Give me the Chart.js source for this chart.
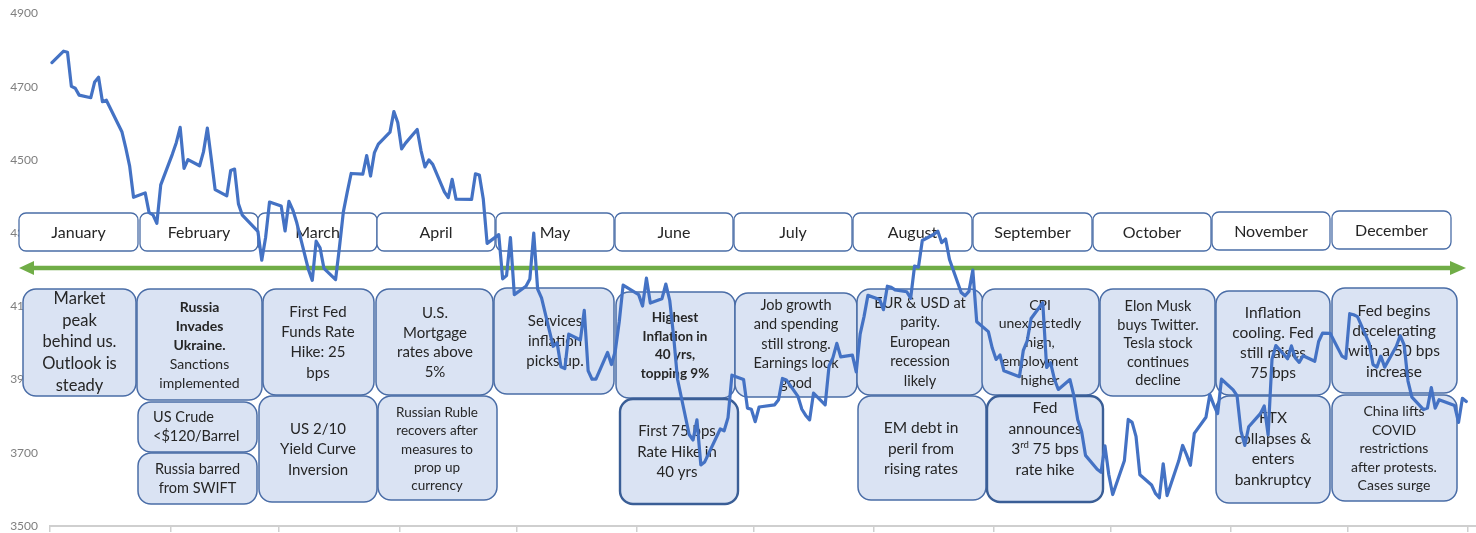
<!DOCTYPE html>
<html><head><meta charset="utf-8">
<script src="https://cdn.jsdelivr.net/npm/chart.js@4.4.1/dist/chart.umd.min.js"></script>
<style>html,body{margin:0;padding:0;background:#fff;}#wrap{width:1476px;height:533px;}</style>
</head><body><div id="wrap"><canvas id="c" width="1476" height="533"></canvas></div>
<script>
const tradingDates = [
'2021-12-31',
'2022-01-03','2022-01-04','2022-01-05','2022-01-06','2022-01-07','2022-01-10','2022-01-11','2022-01-12','2022-01-13','2022-01-14','2022-01-18','2022-01-19','2022-01-20','2022-01-21','2022-01-24','2022-01-25','2022-01-26','2022-01-27','2022-01-28','2022-01-31',
'2022-02-01','2022-02-02','2022-02-03','2022-02-04','2022-02-07','2022-02-08','2022-02-09','2022-02-10','2022-02-11','2022-02-14','2022-02-15','2022-02-16','2022-02-17','2022-02-18','2022-02-22','2022-02-23','2022-02-24','2022-02-25','2022-02-28',
'2022-03-01','2022-03-02','2022-03-03','2022-03-04','2022-03-07','2022-03-08','2022-03-09','2022-03-10','2022-03-11','2022-03-14','2022-03-15','2022-03-16','2022-03-17','2022-03-18','2022-03-21','2022-03-22','2022-03-23','2022-03-24','2022-03-25','2022-03-28','2022-03-29','2022-03-30','2022-03-31',
'2022-04-01','2022-04-04','2022-04-05','2022-04-06','2022-04-07','2022-04-08','2022-04-11','2022-04-12','2022-04-13','2022-04-14','2022-04-18','2022-04-19','2022-04-20','2022-04-21','2022-04-22','2022-04-25','2022-04-26','2022-04-27','2022-04-28','2022-04-29',
'2022-05-02','2022-05-03','2022-05-04','2022-05-05','2022-05-06','2022-05-09','2022-05-10','2022-05-11','2022-05-12','2022-05-13','2022-05-16','2022-05-17','2022-05-18','2022-05-19','2022-05-20','2022-05-23','2022-05-24','2022-05-25','2022-05-26','2022-05-27','2022-05-31',
'2022-06-01','2022-06-02','2022-06-03','2022-06-06','2022-06-07','2022-06-08','2022-06-09','2022-06-10','2022-06-13','2022-06-14','2022-06-15','2022-06-16','2022-06-17','2022-06-21','2022-06-22','2022-06-23','2022-06-24','2022-06-27','2022-06-28','2022-06-29','2022-06-30',
'2022-07-01','2022-07-05','2022-07-06','2022-07-07','2022-07-08','2022-07-11','2022-07-12','2022-07-13','2022-07-14','2022-07-15','2022-07-18','2022-07-19','2022-07-20','2022-07-21','2022-07-22','2022-07-25','2022-07-26','2022-07-27','2022-07-28','2022-07-29',
'2022-08-01','2022-08-02','2022-08-03','2022-08-04','2022-08-05','2022-08-08','2022-08-09','2022-08-10','2022-08-11','2022-08-12','2022-08-15','2022-08-16','2022-08-17','2022-08-18','2022-08-19','2022-08-22','2022-08-23','2022-08-24','2022-08-25','2022-08-26','2022-08-29','2022-08-30','2022-08-31',
'2022-09-01','2022-09-02','2022-09-06','2022-09-07','2022-09-08','2022-09-09','2022-09-12','2022-09-13','2022-09-14','2022-09-15','2022-09-16','2022-09-19','2022-09-20','2022-09-21','2022-09-22','2022-09-23','2022-09-26','2022-09-27','2022-09-28','2022-09-29','2022-09-30',
'2022-10-03','2022-10-04','2022-10-05','2022-10-06','2022-10-07','2022-10-10','2022-10-11','2022-10-12','2022-10-13','2022-10-14','2022-10-17','2022-10-18','2022-10-19','2022-10-20','2022-10-21','2022-10-24','2022-10-25','2022-10-26','2022-10-27','2022-10-28','2022-10-31',
'2022-11-01','2022-11-02','2022-11-03','2022-11-04','2022-11-07','2022-11-08','2022-11-09','2022-11-10','2022-11-11','2022-11-14','2022-11-15','2022-11-16','2022-11-17','2022-11-18','2022-11-21','2022-11-22','2022-11-23','2022-11-25','2022-11-28','2022-11-29','2022-11-30',
'2022-12-01','2022-12-02','2022-12-05','2022-12-06','2022-12-07','2022-12-08','2022-12-09','2022-12-12','2022-12-13','2022-12-14','2022-12-15','2022-12-16','2022-12-19','2022-12-20','2022-12-21','2022-12-22','2022-12-23','2022-12-27','2022-12-28','2022-12-29','2022-12-30'
];
const closes = [
4766,
4797,4794,4701,4696,4677,4670,4713,4726,4659,4663,4577,4533,4483,4398,4410,4356,4350,4327,4432,4516,
4547,4589,4477,4501,4484,4522,4587,4504,4419,4402,4471,4475,4380,4349,4305,4226,4289,4385,4374,
4306,4387,4363,4329,4201,4171,4278,4260,4204,4173,4262,4358,4412,4463,4461,4512,4456,4520,4543,4576,4632,4602,4530,
4546,4583,4525,4481,4500,4488,4413,4397,4447,4393,4392,4462,4459,4394,4272,4296,4175,4184,4288,4132,
4155,4175,4300,4147,4123,3991,4001,3935,3930,4024,4008,4089,3924,3901,3901,3974,3941,3979,4058,4158,4132,
4101,4177,4109,4121,4161,4116,4018,3901,3750,3735,3790,3667,3675,3765,3760,3796,3912,3900,3822,3819,3785,
3825,3831,3845,3903,3899,3854,3819,3802,3790,3863,3831,3937,3960,3999,3962,3967,3921,4024,4072,4130,
4119,4091,4155,4152,4145,4140,4122,4210,4207,4280,4297,4305,4274,4284,4228,4138,4129,4141,4199,4058,4031,3986,3955,
3967,3924,3908,3980,4006,4067,4110,3933,3946,3901,3873,3900,3856,3790,3758,3693,3655,3647,3719,3640,3586,
3678,3791,3783,3745,3640,3612,3589,3577,3670,3583,3678,3720,3695,3666,3753,3797,3859,3831,3807,3901,3872,
3856,3760,3720,3771,3807,3828,3749,3956,3993,3957,3992,3959,3947,3965,3950,4004,4027,4026,3964,3958,4080,
4077,4072,3999,3941,3934,3964,3934,3991,4020,3995,3896,3852,3818,3822,3878,3822,3845,3829,3783,3849,3840
];
const yTickValues = [3500, 3700, 3900, 4100, 4300, 4500, 4700, 4900];
const monthStartDays = [0, 31, 59, 90, 120, 151, 181, 212, 243, 273, 304, 334, 365];
const monthNames = ['January','February','March','April','May','June','July','August','September','October','November','December'];
const eventNotes = [
  ['Market','peak','behind us.','Outlook is','steady'],
  ['Russia','Invades','Ukraine.','Sanctions','implemented'],
  ['US Crude','<$120/Barrel'],
  ['Russia barred','from SWIFT'],
  ['First Fed','Funds Rate','Hike: 25','bps'],
  ['US 2/10','Yield Curve','Inversion'],
  ['U.S.','Mortgage','rates above','5%'],
  ['Russian Ruble','recovers after','measures to','prop up','currency'],
  ['Services','inflation','picks up.'],
  ['Highest','Inflation in','40 yrs,','topping 9%'],
  ['First 75 bps','Rate Hike in','40 yrs'],
  ['Job growth','and spending','still strong.','Earnings look','good'],
  ['EUR & USD at','parity.','European','recession','likely'],
  ['EM debt in','peril from','rising rates'],
  ['CPI','unexpectedly','high,','employment','higher'],
  ['Fed','announces','3^{rd} 75 bps','rate hike'],
  ['Elon Musk','buys Twitter.','Tesla stock','continues','decline'],
  ['Inflation','cooling. Fed','still raises','75 bps'],
  ['FTX','collapses &','enters','bankruptcy'],
  ['Fed begins','decelerating','with a 50 bps','increase'],
  ['China lifts','COVID','restrictions','after protests.','Cases surge']
];

const FONT = 'Lato, "Open Sans", sans-serif';
const monthBoxLayout = [
  [19,213,119,38],[140,213,118,38],[258,213,119,38],[377,213,118,38],
  [496,213,118,38],[615,213,118,38],[734,213,118,38],[853,213,119,38],
  [973,213,119,38],[1093,213,118,38],[1212,212,118,38],[1332,211,119,38]
];
const eventLayout = [
  [23,289,113,107,16.5,21.8,298.5,79.5,{}],
  [137,289,125,111,14,19.2,307,199.5,{boldLines:3}],
  [138,402,119,50,14.5,19,417,153,{align:'left'}],
  [138,453,119,51,14.5,19,469,197.5,{}],
  [263,289,111,106,15,20.3,312,318,{}],
  [259,396,118,106,15,20.5,429,318,{}],
  [376,289,117,106,15,19.7,313,435,{}],
  [378,396,119,104,13.5,18.4,412.5,437,{}],
  [494,288,120,106,15,20,321,555,{}],
  [616,292,119,106,13.5,18.5,318,675,{boldLines:4}],
  [620,399,118,105,15,20.3,431.5,677,{thick:true}],
  [735,293,122,104,14.5,19.5,305,796,{}],
  [857,289,126,106,14.5,19.5,303,920,{}],
  [858,396,128,104,15.5,20.5,428,921,{}],
  [982,289,117,106,14,18.8,305,1040,{}],
  [987,396,116,106,15.5,20.7,408,1045,{thick:true}],
  [1100,289,115,107,14.5,18.5,306.5,1158,{}],
  [1216,291,114,104,15.5,20,313,1273,{}],
  [1216,396,114,107,15.5,20.5,418,1273,{}],
  [1332,288,125,105,15.5,20.2,311,1394,{}],
  [1332,395,125,106,14,18.6,411.5,1394,{}]
];

function roundRect(ctx,x,y,w,h,r){
  ctx.beginPath();
  ctx.moveTo(x+r,y);
  ctx.arcTo(x+w,y,x+w,y+h,r);
  ctx.arcTo(x+w,y+h,x,y+h,r);
  ctx.arcTo(x,y+h,x,y,r);
  ctx.arcTo(x,y,x+w,y,r);
  ctx.closePath();
}
function drawRichLine(ctx,line,x,cy,size,bold,align){
  const segs=[]; const re=/\^\{([^}]*)\}/g; let last=0,m;
  while((m=re.exec(line))){ if(m.index>last) segs.push({t:line.slice(last,m.index),sup:false}); segs.push({t:m[1],sup:true}); last=re.lastIndex; }
  if(last<line.length) segs.push({t:line.slice(last),sup:false});
  const fontFor=s=>(bold?'bold ':'')+(s.sup?size*0.62:size)+'px '+FONT;
  let total=0;
  segs.forEach(s=>{ctx.font=fontFor(s); s.w=ctx.measureText(s.t).width; total+=s.w;});
  let cx = align==='left' ? x : x-total/2;
  ctx.textAlign='left'; ctx.textBaseline='middle';
  segs.forEach(s=>{ctx.font=fontFor(s); ctx.fillText(s.t,cx,s.sup?cy-size*0.32:cy); cx+=s.w;});
}

const timelinePlugin = {
  id:'timeline',
  beforeDatasetsDraw(chart){
    const ctx = chart.ctx;
    ctx.save();
    monthBoxLayout.forEach((b,i)=>{
      roundRect(ctx,b[0],b[1],b[2],b[3],7);
      ctx.fillStyle='#FFFFFF'; ctx.fill();
      ctx.lineWidth=1.3; ctx.strokeStyle='#4A6DA7'; ctx.stroke();
      ctx.fillStyle='#262626';
      drawRichLine(ctx,monthNames[i],b[0]+b[2]/2,b[1]+b[3]/2+0.5,16,false,'center');
    });
    const ay=268;
    ctx.strokeStyle='#70AD47'; ctx.fillStyle='#70AD47'; ctx.lineWidth=4.5;
    ctx.beginPath(); ctx.moveTo(30,ay); ctx.lineTo(1454,ay); ctx.stroke();
    ctx.beginPath(); ctx.moveTo(19,ay); ctx.lineTo(34,ay-7); ctx.lineTo(34,ay+7); ctx.closePath(); ctx.fill();
    ctx.beginPath(); ctx.moveTo(1466,ay); ctx.lineTo(1450,ay-7); ctx.lineTo(1450,ay+7); ctx.closePath(); ctx.fill();
    eventLayout.forEach((L,i)=>{
      const [x,y,w,h,fs,lh,y0,tx,opt]=L;
      roundRect(ctx,x,y,w,h,13);
      ctx.fillStyle='#DAE3F3'; ctx.fill();
      ctx.lineWidth=opt.thick?2.4:1.5; ctx.strokeStyle=opt.thick?'#3A5E96':'#4A6DA7'; ctx.stroke();
      ctx.fillStyle='#262626';
      eventNotes[i].forEach((ln,k)=>{
        drawRichLine(ctx,ln,tx,y0+k*lh,fs,opt.boldLines&&k<opt.boldLines,opt.align||'center');
      });
    });
    ctx.restore();
  }
};

const dayMs = 86400000;
const yearStart = Date.UTC(2022,0,1);
const points = tradingDates.map((d,i)=>{
  const p=d.split('-').map(Number);
  const dayNum=(Date.UTC(p[0],p[1]-1,p[2])-yearStart)/dayMs+1;
  return {x:dayNum+0.5, y:closes[i]};
});

new Chart(document.getElementById('c'),{
  type:'line',
  data:{datasets:[{data:points,borderColor:'#4472C4',borderWidth:3.2,pointRadius:0,tension:0,fill:false,borderJoinStyle:'round',borderCapStyle:'round'}]},
  options:{
    responsive:false, animation:false, devicePixelRatio:1,
    layout:{padding:{top:13.5,right:0,bottom:0,left:0}},
    plugins:{legend:{display:false},tooltip:{enabled:false}},
    scales:{
      x:{type:'linear',min:0,max:367,
        afterBuildTicks:s=>{s.ticks=monthStartDays.map(v=>({value:v}));},
        ticks:{display:false},
        grid:{drawOnChartArea:false,drawTicks:true,tickLength:6,color:'#CFCFCF',lineWidth:1.5},
        border:{color:'#CFCFCF',width:2},
        afterFit:s=>{s.height=7;}
      },
      y:{min:3500,max:4900,
        afterBuildTicks:s=>{s.ticks=yTickValues.map(v=>({value:v}));},
        ticks:{color:'#7F7F7F',font:{family:FONT,size:12},padding:12,callback:v=>String(v)},
        grid:{display:false,drawTicks:false},
        border:{display:false},
        afterFit:s=>{s.width=50; s.paddingTop=7; s.paddingBottom=7;}
      }
    }
  },
  plugins:[timelinePlugin]
});
</script></body></html>
